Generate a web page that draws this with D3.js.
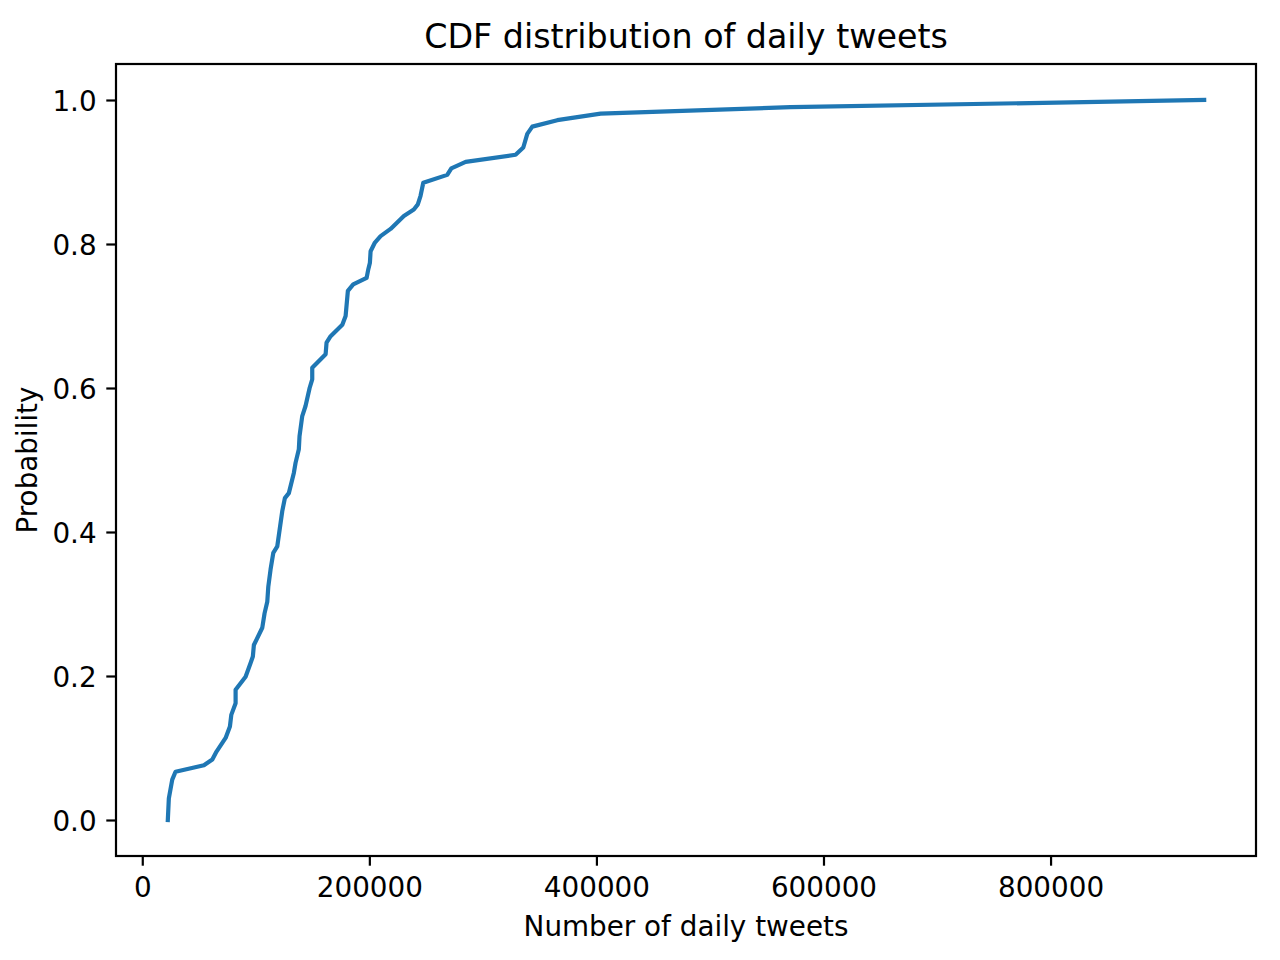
<!DOCTYPE html>
<html>
<head>
<meta charset="utf-8">
<script src="https://cdn.jsdelivr.net/npm/d3@7"></script>
<style>
  body { margin: 0; background: #fff; }
  svg { display: block; font-family: "DejaVu Sans", sans-serif; }
</style>
</head>
<body>
<div id="plot"></div>
<script>
// values: daily tweet counts and their cumulative probability
var tweets = [22500, 23400, 26400, 29300, 54300, 61700, 65400, 73400, 77200, 78400,
  82200, 82200, 91000, 95400, 97400, 98300, 105700, 107700, 110100, 111000,
  113000, 115400, 118900, 123300, 125600, 129100, 133500, 135000, 137900, 138500,
  140900, 143800, 147400, 149700, 149700, 161500, 162300, 165900, 176200, 179100,
  181100, 185800, 197600, 199100, 200500, 201100, 204900, 209900, 218700, 230400,
  239200, 242700, 245100, 247500, 268600, 272200, 284800, 328800, 335600, 339100,
  343500, 365500, 403700, 571000, 935300];
var probability = [0.000, 0.030, 0.056, 0.067, 0.076, 0.084, 0.095, 0.114, 0.130, 0.146,
  0.162, 0.181, 0.199, 0.218, 0.227, 0.243, 0.267, 0.287, 0.303, 0.324,
  0.348, 0.371, 0.380, 0.429, 0.447, 0.454, 0.482, 0.496, 0.515, 0.533,
  0.561, 0.575, 0.600, 0.612, 0.628, 0.647, 0.663, 0.672, 0.688, 0.700,
  0.735, 0.744, 0.753, 0.765, 0.774, 0.790, 0.802, 0.811, 0.821, 0.839,
  0.848, 0.855, 0.867, 0.885, 0.896, 0.905, 0.914, 0.924, 0.934, 0.953,
  0.963, 0.972, 0.981, 0.990, 1.000];
var xTicks = [0, 200000, 400000, 600000, 800000];
var yTicks = [0.0, 0.2, 0.4, 0.6, 0.8, 1.0];

var W = 1280, H = 960;
var margin = {t:64, r:24, b:104, l:116};
var width = W - margin.l - margin.r,
    height = H - margin.t - margin.b;

var tickFont = 27.8;
var tickLen = 9.7;

var svg = d3.select('#plot')
  .append('svg')
  .attr('width', W)
  .attr('height', H);

var plot = svg.append('g')
  .attr('transform', 'translate(' + margin.l + ',' + margin.t + ')');

var points = tweets.map(function(d, i){ return {x:d, y:probability[i]}; });

// matplotlib style 5% padding around the data
var xExt = d3.extent(tweets), xPad = (xExt[1] - xExt[0]) * 0.05;
var yExt = d3.extent(probability), yPad = (yExt[1] - yExt[0]) * 0.05;

var x = d3.scaleLinear()
  .domain([xExt[0] - xPad, xExt[1] + xPad])
  .range([0, width]);
var y = d3.scaleLinear()
  .domain([yExt[0] - yPad, yExt[1] + yPad])
  .range([height, 0]);

var line = d3.line()
  .x(function(d){ return x(d.x); })
  .y(function(d){ return y(d.y); });

plot.append('path')
  .datum(points)
  .attr('d', line)
  .style('fill', 'none')
  .style('stroke', '#1f77b4')
  .style('stroke-width', 4.2)
  .style('stroke-linejoin', 'round')
  .style('stroke-linecap', 'square');

// axes
var xAxis = plot.append('g')
  .attr('transform', 'translate(0,' + height + ')')
  .call(d3.axisBottom(x).tickValues(xTicks).tickSize(tickLen).tickFormat(d3.format('d')));
var yAxis = plot.append('g')
  .call(d3.axisLeft(y).tickValues(yTicks).tickSize(tickLen).tickPadding(9.7).tickFormat(d3.format('.1f')));

[xAxis, yAxis].forEach(function(a){
  a.select('.domain').remove();
  a.selectAll('.tick line').style('stroke', '#000').style('stroke-width', 2.2);
  a.selectAll('.tick text')
    .style('font-family', '"DejaVu Sans", sans-serif')
    .style('font-size', tickFont + 'px')
    .style('fill', '#000');
});
xAxis.selectAll('.tick text').attr('y', 40.7).attr('dy', 0);
yAxis.selectAll('.tick text').attr('dy', '0.36em');

// frame
plot.append('rect')
  .attr('width', width)
  .attr('height', height)
  .style('fill', 'none')
  .style('stroke', '#000')
  .style('stroke-width', 2.2);

svg.append('text')
  .attr('x', margin.l + width / 2)
  .attr('y', 47.6)
  .attr('text-anchor', 'middle')
  .style('font-size', '33.3px')
  .text('CDF distribution of daily tweets');

svg.append('text')
  .attr('x', margin.l + width / 2)
  .attr('y', 936)
  .attr('text-anchor', 'middle')
  .style('font-size', tickFont + 'px')
  .text('Number of daily tweets');

svg.append('text')
  .attr('transform', 'translate(37,' + (margin.t + height / 2) + ') rotate(-90)')
  .attr('text-anchor', 'middle')
  .style('font-size', tickFont + 'px')
  .text('Probability');
</script>
</body>
</html>
